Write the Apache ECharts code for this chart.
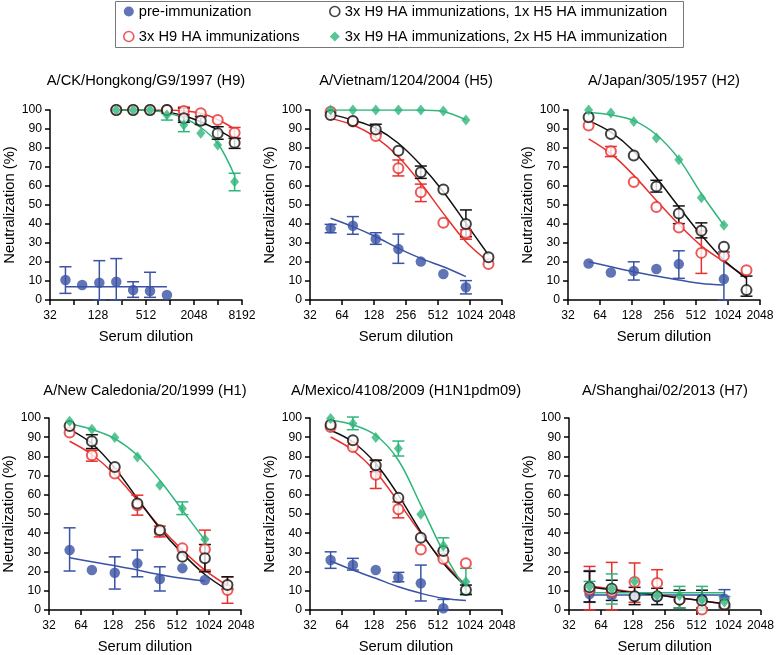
<!DOCTYPE html>
<html><head><meta charset="utf-8">
<script src="https://cdn.jsdelivr.net/npm/echarts@6/dist/echarts.min.js"></script>
<style>html,body{margin:0;padding:0;background:#fff}#c{width:777px;height:655px}</style>
</head><body><div id="c"></div>
<script>
// ---------- dilutions ----------
const dil = [50, 81, 133, 217, 353, 575, 937, 1528];
const dilHigh = [217, 353, 575, 937, 1528, 2490, 4060, 6620];

// ---------- group names / colours ----------
const groupNames = ['pre-immunization', '3x H9 HA immunizations',
  '3x H9 HA immunizations, 1x H5 HA immunization', '3x H9 HA immunizations, 2x H5 HA immunization'];
const titles = ['A/CK/Hongkong/G9/1997 (H9)', 'A/Vietnam/1204/2004 (H5)', 'A/Japan/305/1957 (H2)',
  'A/New Caledonia/20/1999 (H1)', 'A/Mexico/4108/2009 (H1N1pdm09)', 'A/Shanghai/02/2013 (H7)'];
const xMax = [8192, 2048, 2048, 2048, 2048, 2048];

// ---------- H9 panel ----------
const h9_pre = [10.5, 7.9, 9.1, 9.6, 5.3, 4.7, 2.6];
const h9_pre_err = [[3.5,17.5], null, [0,20.7], [0,21.8], [1.4,9.6], [1.4,14.6], null];
const h9_pre_fit = [7, 7, 7, 7, 7, 7, 7];
const h9_h9 = [100, 100, 100, 100, 99.5, 98.3, 94.7, 88];
const h9_h9_err = [null, null, null, null, [97.5,101.5], null, null, [85,90.8]];
const h9_h9_fit = [100, 100, 100, 100, 99.6, 98.3, 95, 90];
const h9_h5a = [100, 100, 100, 100, 95.6, 94.4, 87.7, 82.8];
const h9_h5a_err = [null, null, null, null, [93.5,101], [92.4,96.5], [84.6,91.2], [79.8,85.1]];
const h9_h5a_fit = [100, 100, 99.8, 99, 97, 93.8, 89.5, 84.5];
const h9_h5b = [100, 100, 100, 97.4, 92.1, 87.7, 81.6, 62.3];
const h9_h5b_err = [null, null, null, [94.7,98.2], [88.6,94.4], null, null, [57.5,66.7]];
const h9_h5b_fit = [100, 100, 99.8, 98.6, 95.8, 90.8, 82.5, 65.5];

// ---------- H5 panel ----------
const h5_pre = [37.7, 39.1, 32.1, 26.8, 20.2, 13.7, 6.7];
const h5_pre_err = [[35.4,39.8], [34.6,43.9], [29.3,35.4], [19.3,34.7], null, null, [3.2,10.2]];
const h5_pre_fit = [43, 38.6, 33.3, 27.2, 21.9, 17.5, 12.3];
const h5_h9 = [99.1, 93.9, 86.3, 69.3, 56.7, 40.7, 35.1, 18.9];
const h5_h9_err = [null, null, null, [65.3,73.7], [51.8,61], null, [32,37], null];
const h5_h9_fit = [95.6, 92.1, 85.6, 75.4, 61.4, 45.6, 30.7, 20.2];
const h5_h5a = [97.4, 94.2, 89.8, 78.6, 67.2, 58.2, 40, 22.5];
const h5_h5a_err = [null, null, [87.4,92.5], null, [64,70.5], null, [33.3,47.4], null];
const h5_h5a_fit = [97.7, 94.7, 90.4, 82.5, 71, 57, 40.4, 23.7];
const h5_h5b = [100, 100, 100, 100, 100, 99.5, 94.7];
const h5_h5b_err = [null, null, null, null, null, null, null];
const h5_h5b_fit = [100, 100, 100, 100, 100, 99.2, 94.9];

// ---------- H2 panel ----------
const h2_pre = [19.2, 14.5, 15.2, 16.3, 18.9, null, 11];
const h2_pre_err = [null, null, [10.5,20.1], null, [11.4,25.9], null, [0,25.3]];
const h2_pre_fit = [20.1, 17.5, 14.9, 12.6, 10.5, 8.7, 7.9];
const h2_h9 = [91.8, 78.3, 62.1, 49, 38.1, 24.8, 23.1, 15.7];
const h2_h9_err = [null, [75.5,80.8], null, null, null, [14,36.4], null, null];
const h2_h9_fit = [84.8, 77, 65.6, 52.4, 39.7, 28.5, 20.1, 11.9];
const h2_h5a = [96.2, 87.4, 76, 59.8, 45.5, 36.4, 28, 5.2];
const h2_h5a_err = [null, null, null, [56.8,63], [40.2,49.5], [32.7,40.6], null, [2,12.6]];
const h2_h5a_fit = [94.4, 88.3, 78.3, 64.3, 49, 34.1, 21, 11.4];
const h2_h5b = [100, 98.4, 94, 85.3, 73.8, 53.8, 39.3];
const h2_h5b_err = [null, null, null, null, null, null, null];
const h2_h5b_fit = [98.8, 97.4, 94.4, 87, 74.3, 55.9, 39.3];

// ---------- H1 panel ----------
const h1_pre = [31.2, 20.8, 19.4, 24.3, 16.1, 21.8, 15.6];
const h1_pre_err = [[20.3,42.8], null, [10.9,27.7], [17.3,31.2], [9.9,22.5], null, null];
const h1_pre_fit = [27.2, 25.1, 23.1, 20.8, 18.5, 16.5, 15.1];
const h1_h9 = [92.4, 80.6, 71.1, 54.6, 40.7, 32.1, 31.7, 10.4];
const h1_h9_err = [null, [77.5,83.2], null, [49.4,59.8], [38.1,43.7], null, [20.8,41.6], [3.5,17.3]];
const h1_h9_fit = [87.9, 81, 70.6, 57.2, 43.3, 31.2, 20.8, 12.7];
const h1_h5a = [95.8, 87.9, 74.5, 55.5, 41.6, 27.7, 26.9, 13];
const h1_h5a_err = [null, [84.1,91.3], null, null, null, null, [19.9,34.1], [10.9,17.3]];
const h1_h5a_fit = [94.1, 86.7, 74, 58.1, 42.5, 29.5, 18.5, 10.4];
const h1_h5b = [98.3, 94.1, 89.8, 79.7, 65, 52.9, 36.9];
const h1_h5b_err = [null, null, null, null, null, [49.7,56.3], null];
const h1_h5b_fit = [97, 94.1, 89.3, 80.6, 67.6, 52, 36.4];

// ---------- H1N1pdm09 panel ----------
const pdm_pre = [26, 23.4, 20.8, 16.8, 13.9, 0.9];
const pdm_pre_err = [[21.7,30.3], [20.8,26.9], null, [14.7,19.6], [4.7,23.4], [0,5.5]];
const pdm_pre_fit = [25.5, 20.8, 16.5, 12.1, 8.7, 6.1, 5];
const pdm_h9 = [95.3, 84.9, 70.5, 52.5, 31.5, 26.5, 24.3];
const pdm_h9_err = [null, null, [63.3,78], [48,56.3], null, null, null];
const pdm_h9_fit = [90.1, 83.2, 71.9, 56.3, 39.9, 25.1, 13];
const pdm_h5a = [96.5, 88.4, 75.4, 58.4, 37.6, 30.7, 10.4];
const pdm_h5a_err = [null, null, [72,78], null, null, null, [8,13]];
const pdm_h5a_fit = [93.6, 87.5, 76.3, 59.8, 40.7, 24.3, 12.1];
const pdm_h5b = [99.7, 97.1, 89.8, 84.1, 49.9, 33.4, 14.7];
const pdm_h5b_err = [null, [93.9,100.5], null, [80.2,88], null, [30.7,37.6], [8.7,21.7]];
const pdm_h5b_fit = [98.8, 96.5, 91, 78, 54.6, 30.3, 10.4];

// ---------- H7 panel ----------
const h7_pre = [8.3, 7.6, 7.1, 6.6, 5.9, 5.9, 5.9];
const h7_pre_err = [[4,20.5], null, null, null, null, null, [1.7,10.6]];
const h7_pre_fit = [7.8, 7.8, 7.8, 7.8, 7.8, 7.8, 7.8];
const h7_h9 = [10.6, 9.5, 14.6, 14.1, 5.4, 0.2, 2.8];
const h7_h9_err = [[0,22.7], [0,24.8], [4,24.5], [7,21], null, null, null];
const h7_h9_fit = [12.5, 11, 9.3, 7.9, 6.3, 4.8, 3];
const h7_h5a = [11.8, 11.1, 7.1, 7.1, 5.4, 4.9, 2.8];
const h7_h5a_err = [[4.2,20.1], [5,15.5], [2.8,11.8], [2.8,11.3], [1,10.3], [1,10.3], null];
const h7_h5a_fit = [12, 10.5, 9, 7.8, 6.3, 4.8, 3.2];
const h7_h5b = [12.3, 11.1, 14.9, 7.6, 7.6, 5.4, 4.2];
const h7_h5b_err = [[9.7,14.9], [3.1,18.8], null, null, [1,12.3], [0.2,12.3], [1,7]];
const h7_h5b_fit = [9, 9, 9, 9, 9, 9, 9];

// ---------- assemble ----------
const C = {pre:'#3a53a4', h9:'#e8302e', h5a:'#111111', h5b:'#2fb67c'};
const FONT = '"Liberation Sans", Arial, sans-serif';
const panels = [
  {x:[dil, dilHigh, dilHigh, dilHigh], g:[[h9_pre,h9_pre_err,h9_pre_fit],[h9_h9,h9_h9_err,h9_h9_fit],[h9_h5a,h9_h5a_err,h9_h5a_fit],[h9_h5b,h9_h5b_err,h9_h5b_fit]]},
  {x:[dil, dil, dil, dil], g:[[h5_pre,h5_pre_err,h5_pre_fit],[h5_h9,h5_h9_err,h5_h9_fit],[h5_h5a,h5_h5a_err,h5_h5a_fit],[h5_h5b,h5_h5b_err,h5_h5b_fit]]},
  {x:[dil, dil, dil, dil], g:[[h2_pre,h2_pre_err,h2_pre_fit],[h2_h9,h2_h9_err,h2_h9_fit],[h2_h5a,h2_h5a_err,h2_h5a_fit],[h2_h5b,h2_h5b_err,h2_h5b_fit]]},
  {x:[dil, dil, dil, dil], g:[[h1_pre,h1_pre_err,h1_pre_fit],[h1_h9,h1_h9_err,h1_h9_fit],[h1_h5a,h1_h5a_err,h1_h5a_fit],[h1_h5b,h1_h5b_err,h1_h5b_fit]]},
  {x:[dil, dil, dil, dil], g:[[pdm_pre,pdm_pre_err,pdm_pre_fit],[pdm_h9,pdm_h9_err,pdm_h9_fit],[pdm_h5a,pdm_h5a_err,pdm_h5a_fit],[pdm_h5b,pdm_h5b_err,pdm_h5b_fit]]},
  {x:[dil, dil, dil, dil], g:[[h7_pre,h7_pre_err,h7_pre_fit],[h7_h9,h7_h9_err,h7_h9_fit],[h7_h5a,h7_h5a_err,h7_h5a_fit],[h7_h5b,h7_h5b_err,h7_h5b_fit]]}
];
const gridPos = [
  {left:50, top:110, width:192, height:190},
  {left:310, top:110, width:192, height:190},
  {left:568, top:110, width:192, height:190},
  {left:49, top:418, width:192, height:192},
  {left:310, top:418, width:192, height:192},
  {left:569, top:418, width:192, height:192}
];
const titleTop = [73, 73, 73, 383, 383, 383];
const keys = ['pre','h9','h5a','h5b'];
const markerStyle = {
  pre: {symbol:'circle', symbolSize:10.5, itemStyle:{color:C.pre}},
  h9:  {symbol:'emptyCircle', symbolSize:10, itemStyle:{color:C.h9, borderColor:C.h9, borderWidth:1.6}},
  h5a: {symbol:'emptyCircle', symbolSize:10, itemStyle:{color:C.h5a, borderColor:C.h5a, borderWidth:1.6}},
  h5b: {symbol:'diamond', symbolSize:[9,11], itemStyle:{color:C.h5b}}
};

const grid = [], xAxis = [], yAxis = [], title = [], series = [];
panels.forEach((p, i) => {
  grid.push(gridPos[i]);
  const gp = gridPos[i];
  title.push({text:titles[i], left:gp.left + gp.width/2, top:titleTop[i], textAlign:'center', padding:0,
    textStyle:{fontSize:14.7, fontWeight:'normal', color:'#000', fontFamily:FONT}});
  const sparse = xMax[i] === 8192;
  xAxis.push({gridIndex:i, type:'log', logBase:2, min:32, max:xMax[i], interval:1,
    axisLine:{lineStyle:{color:'#000', width:1.5}},
    axisTick:{length:5, lineStyle:{color:'#000', width:1.5}},
    splitLine:{show:false},
    axisLabel:{color:'#000', fontSize:12.2, fontFamily:FONT, margin:10,
      formatter: v => { const r = Math.round(v); const e = Math.round(Math.log2(r)); return (!sparse || e % 2 === 1) ? String(r) : ''; }},
    name:'Serum dilution', nameLocation:'middle', nameGap:29,
    nameTextStyle:{color:'#000', fontSize:14.8, fontFamily:FONT}});
  yAxis.push({gridIndex:i, type:'value', min:0, max:100, interval:10,
    axisLine:{show:true, lineStyle:{color:'#000', width:1.5}},
    axisTick:{show:true, length:5, lineStyle:{color:'#000', width:1.5}},
    splitLine:{show:false},
    axisLabel:{color:'#000', fontSize:12.2, fontFamily:FONT, margin:8},
    name:'Neutralization (%)', nameLocation:'middle', nameGap:33,
    nameTextStyle:{color:'#000', fontSize:14.8, fontFamily:FONT}});
  keys.forEach((k, gi) => {
    const xs = p.x[gi];
    const [vals, errs, fit] = p.g[gi];
    const color = C[k];
    // fitted curve
    series.push({type:'line', name:groupNames[gi] + ' fit', xAxisIndex:i, yAxisIndex:i, z:2, silent:true,
      showSymbol:false, symbol:'none', smooth:0.35, lineStyle:{color, width:1.5},
      data: fit.map((v, j) => [xs[j], v])});
    // error bars
    const eb = [];
    errs.forEach((e, j) => { if (e) eb.push([xs[j], e[0], e[1]]); });
    series.push({type:'custom', name:groupNames[gi] + ' error', xAxisIndex:i, yAxisIndex:i, z:3 + gi*0.1, silent:true,
      data: eb, encode:{x:0, y:[1,2]},
      renderItem: (params, api) => {
        const x = api.value(0);
        const top = api.coord([x, api.value(2)]);
        const bot = api.coord([x, api.value(1)]);
        const w = 6;
        const st = {stroke:color, lineWidth:1.5};
        return {type:'group', children:[
          {type:'line', shape:{x1:top[0], y1:top[1], x2:bot[0], y2:bot[1]}, style:st},
          {type:'line', shape:{x1:top[0]-w, y1:top[1], x2:top[0]+w, y2:top[1]}, style:st},
          {type:'line', shape:{x1:bot[0]-w, y1:bot[1], x2:bot[0]+w, y2:bot[1]}, style:st}
        ]};
      }});
    // markers
    const ms = markerStyle[k];
    series.push({type:'scatter', name:groupNames[gi], xAxisIndex:i, yAxisIndex:i, z:4 + gi*0.1,
      symbol:ms.symbol, symbolSize:ms.symbolSize, itemStyle:ms.itemStyle,
      data: vals.map((v, j) => [xs[j], v]).filter(d => d[1] !== null)});
  });
});

const legendBase = {orient:'vertical', top:4, itemGap:10, itemWidth:10, itemHeight:10, padding:0,
  selectedMode:false, textStyle:{fontSize:14.7, color:'#000', fontFamily:FONT}};
const option = {
  backgroundColor:'#fff',
  animation:false,
  title, grid, xAxis, yAxis, series,
  legend:[
    Object.assign({}, legendBase, {left:123, data:[
      {name:groupNames[0], icon:'circle', itemStyle:{color:C.pre}},
      {name:groupNames[1], icon:'circle', itemStyle:{color:'#fff', borderColor:C.h9, borderWidth:1.6}}]}),
    Object.assign({}, legendBase, {left:329, data:[
      {name:groupNames[2], icon:'circle', itemStyle:{color:'#fff', borderColor:C.h5a, borderWidth:1.6}},
      {name:groupNames[3], icon:'diamond', itemStyle:{color:C.h5b}}]})
  ],
  graphic:[{type:'rect', shape:{x:115.5, y:1.5, width:568, height:46}, style:{fill:'none', stroke:'#777', lineWidth:1}, silent:true}]
};
const chart = echarts.init(document.getElementById('c'), null, {renderer:'canvas'});
chart.setOption(option);
</script></body></html>
